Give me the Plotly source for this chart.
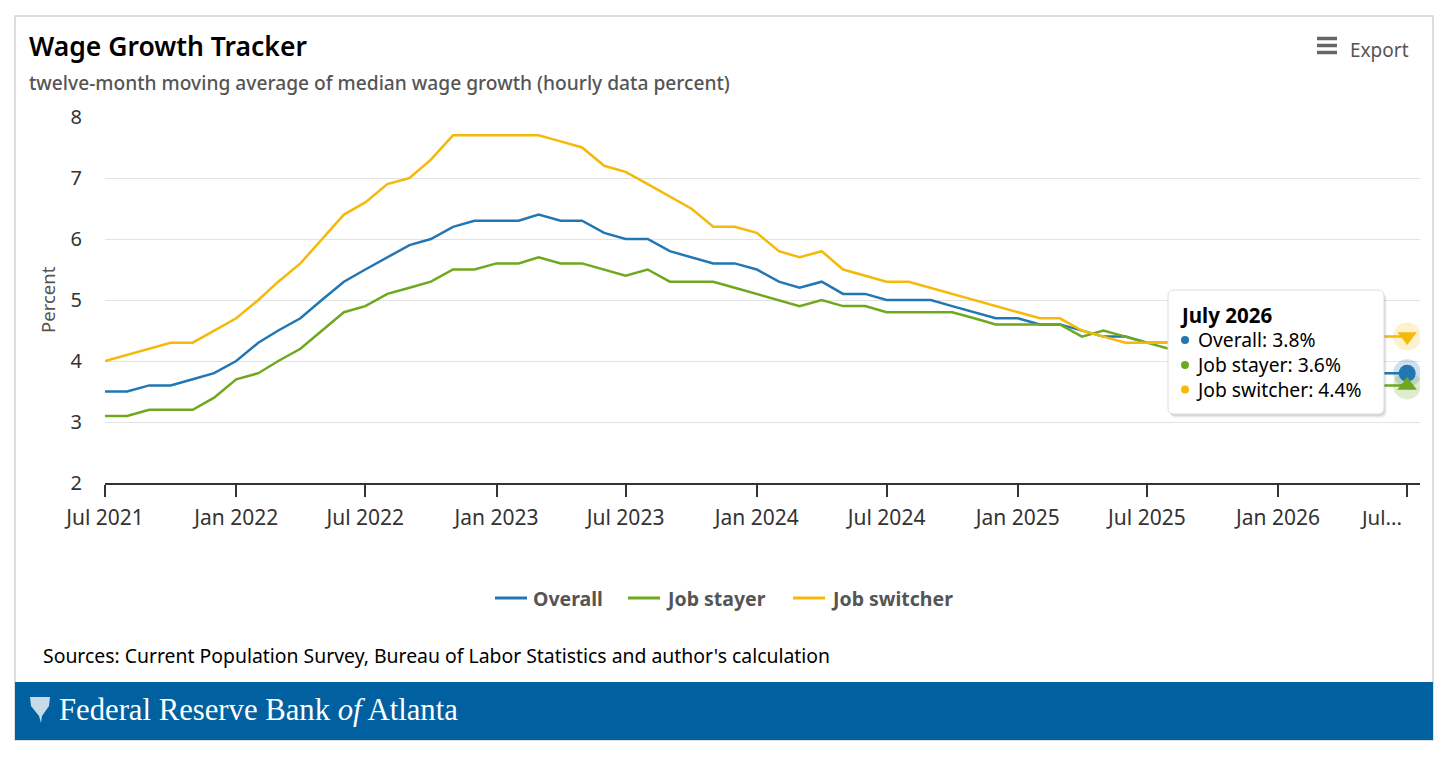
import pandas as pd
import plotly.graph_objects as go

# ---------------- data ----------------
start_month = "2021-07-01"
n_months = 61
months = list(pd.date_range(start_month, periods=n_months, freq="MS"))

overall = [3.5, 3.5, 3.6, 3.6, 3.7, 3.8, 4.0, 4.3, 4.5, 4.7, 5.0, 5.3, 5.5,
           5.7, 5.9, 6.0, 6.2, 6.3, 6.3, 6.3, 6.4, 6.3, 6.3, 6.1, 6.0, 6.0,
           5.8, 5.7, 5.6, 5.6, 5.5, 5.3, 5.2, 5.3, 5.1, 5.1, 5.0, 5.0, 5.0,
           4.9, 4.8, 4.7, 4.7, 4.6, 4.6, 4.5, 4.4, 4.4, 4.3, 4.3, 4.2, 4.2,
           4.1, 4.0, 4.0, 3.9, 3.9, 3.8, 3.8, 3.8, 3.8]
job_stayer = [3.1, 3.1, 3.2, 3.2, 3.2, 3.4, 3.7, 3.8, 4.0, 4.2, 4.5, 4.8, 4.9,
              5.1, 5.2, 5.3, 5.5, 5.5, 5.6, 5.6, 5.7, 5.6, 5.6, 5.5, 5.4, 5.5,
              5.3, 5.3, 5.3, 5.2, 5.1, 5.0, 4.9, 5.0, 4.9, 4.9, 4.8, 4.8, 4.8,
              4.8, 4.7, 4.6, 4.6, 4.6, 4.6, 4.4, 4.5, 4.4, 4.3, 4.2, 4.1, 4.0,
              4.0, 3.9, 3.8, 3.8, 3.7, 3.7, 3.6, 3.6, 3.6]
job_switcher = [4.0, 4.1, 4.2, 4.3, 4.3, 4.5, 4.7, 5.0, 5.3, 5.6, 6.0, 6.4, 6.6,
                6.9, 7.0, 7.3, 7.7, 7.7, 7.7, 7.7, 7.7, 7.6, 7.5, 7.2, 7.1, 6.9,
                6.7, 6.5, 6.2, 6.2, 6.1, 5.8, 5.7, 5.8, 5.5, 5.4, 5.3, 5.3, 5.2,
                5.1, 5.0, 4.9, 4.8, 4.7, 4.7, 4.5, 4.4, 4.3, 4.3, 4.3, 4.3, 4.3,
                4.4, 4.4, 4.4, 4.4, 4.4, 4.4, 4.4, 4.4, 4.4]

series_names = ["Overall", "Job stayer", "Job switcher"]
tick_dates = ["2021-07-01", "2022-01-01", "2022-07-01", "2023-01-01", "2023-07-01",
              "2024-01-01", "2024-07-01", "2025-01-01", "2025-07-01", "2026-01-01",
              "2026-07-01"]
tick_labels = ["Jul 2021", "Jan 2022", "Jul 2022", "Jan 2023", "Jul 2023",
               "Jan 2024", "Jul 2024", "Jan 2025", "Jul 2025", "Jan 2026", "Jul..."]
y_ticks = [2, 3, 4, 5, 6, 7, 8]
tooltip_title = "July 2026"

# ---------------- style ----------------
BLUE = "#2277b3"
GREEN = "#6fa81e"
YELLOW = "#f5b90a"
BANNER = "#0060a0"
FONT = "Noto Sans"

W, H = 1456, 758
L, R, T, B = 105, 1420, 117, 483


def px(X):
    return (X - L) / (R - L)


def py(Y):
    return (B - Y) / (B - T)


def rrect(X0, Y0, X1, Y1, r):
    pts = [
        ("M", [(X0 + r, Y0)]), ("L", [(X1 - r, Y0)]), ("Q", [(X1, Y0), (X1, Y0 + r)]),
        ("L", [(X1, Y1 - r)]), ("Q", [(X1, Y1), (X1 - r, Y1)]), ("L", [(X0 + r, Y1)]),
        ("Q", [(X0, Y1), (X0, Y1 - r)]), ("L", [(X0, Y0 + r)]), ("Q", [(X0, Y0), (X0 + r, Y0)]),
    ]
    s = ""
    for cmd, ps in pts:
        s += cmd + " " + " ".join(f"{px(a):.5f},{py(b):.5f}" for a, b in ps) + " "
    return s + "Z"


fig = go.Figure()
colors = [BLUE, GREEN, YELLOW]
data = [overall, job_stayer, job_switcher]
for name, vals, c in zip(series_names, data, colors):
    fig.add_trace(go.Scatter(x=months, y=vals, mode="lines", name=name,
                             line=dict(color=c, width=2.5), showlegend=False))

# hover-state markers on the last point
last = n_months - 1
halo = {BLUE: "rgba(34,119,179,0.22)", GREEN: "rgba(111,168,30,0.22)",
        YELLOW: "rgba(245,185,10,0.2)"}
symbols = {BLUE: "circle", GREEN: "triangle-up", YELLOW: "triangle-down"}
for vals, c in [(job_switcher, YELLOW), (overall, BLUE), (job_stayer, GREEN)]:
    fig.add_trace(go.Scatter(x=[months[last]], y=[vals[last]], mode="markers",
                             showlegend=False, hoverinfo="skip",
                             marker=dict(size=28, color=halo[c], line=dict(width=0))))
for vals, c in [(job_switcher, YELLOW), (overall, BLUE), (job_stayer, GREEN)]:
    fig.add_trace(go.Scatter(x=[months[last]], y=[vals[last]], mode="markers",
                             showlegend=False, hoverinfo="skip",
                             marker=dict(size=17, color=c, symbol=symbols[c],
                                         line=dict(width=0))))

shapes = []
# outer frame
shapes.append(dict(type="rect", xref="paper", yref="paper", x0=px(15), x1=px(1433),
                   y0=py(16), y1=py(740), line=dict(color="#d4d4d4", width=1.5),
                   fillcolor="rgba(0,0,0,0)", layer="below"))
# banner
shapes.append(dict(type="rect", xref="paper", yref="paper", x0=px(15), x1=px(1433),
                   y0=py(682), y1=py(740), line=dict(width=0), fillcolor=BANNER,
                   layer="below"))
# logo (simple emblem)
logo = (f"M {px(30)},{py(697)} L {px(50)},{py(697)} L {px(49)},{py(706)} "
        f"L {px(42)},{py(716)} L {px(41)},{py(723)} L {px(39)},{py(716)} "
        f"L {px(31)},{py(706)} Z")
shapes.append(dict(type="path", xref="paper", yref="paper", path=logo,
                   fillcolor="rgba(220,232,242,0.9)", line=dict(width=0)))
# hamburger icon
for yy in (38.5, 45.5, 52.5):
    shapes.append(dict(type="line", xref="paper", yref="paper", x0=px(1317), x1=px(1337),
                       y0=py(yy), y1=py(yy), line=dict(color="#666666", width=3.5)))
# legend symbols
legend_x = [(495, 527), (628, 660), (793, 825)]
for (a, b), c in zip(legend_x, colors):
    shapes.append(dict(type="line", xref="paper", yref="paper", x0=px(a), x1=px(b),
                       y0=py(598), y1=py(598), line=dict(color=c, width=3)))
# tooltip box with soft shadow
for off, a in [(4, 0.04), (3, 0.05), (2, 0.07)]:
    shapes.append(dict(type="path", xref="paper", yref="paper",
                       path=rrect(1168 + off - 1, 290 + off, 1384 + off - 1, 414 + off, 6),
                       fillcolor=f"rgba(0,0,0,{a})", line=dict(width=0), layer="above"))
shapes.append(dict(type="path", xref="paper", yref="paper",
                   path=rrect(1168, 290, 1384, 414, 6), fillcolor="white",
                   line=dict(color="#dcdcdc", width=1), layer="above"))
# tooltip dots
for yy, c in [(340, BLUE), (365, GREEN), (389.5, YELLOW)]:
    shapes.append(dict(type="circle", xref="paper", yref="paper",
                       x0=px(1181), x1=px(1189), y0=py(yy - 4), y1=py(yy + 4),
                       fillcolor=c, line=dict(width=0), layer="above"))

ann = []


def text(X, Y, s, size, color="#000", xanchor="left", weight="normal", family=FONT,
         angle=0):
    ann.append(dict(x=px(X), y=py(Y), xref="paper", yref="paper", text=s,
                    showarrow=False, xanchor=xanchor, yanchor="middle",
                    textangle=angle, align="left",
                    font=dict(size=size, color=color, family=family, weight=weight)))


text(27, 46, "Wage Growth Tracker", 26.5, "#000", weight=600)
text(27, 83, "twelve-month moving average of median wage growth (hourly data percent)",
     19.2, "#555", weight=500)
text(1348, 50, "Export", 19, "#555")
text(47, 300, "Percent", 18.5, "#555", xanchor="center", angle=-90)
text(41, 655, "Sources: Current Population Survey, Bureau of Labor Statistics and author's calculation",
     19.4, "#000")
text(57, 710, "Federal Reserve Bank <i>of</i> Atlanta", 30.7, "white",
     family="Liberation Serif")
vals_last = [overall[last], job_stayer[last], job_switcher[last]]
tip_lines = [f"<b>{tooltip_title}</b>"] + [f"    {n}: {v:.1f}%" for n, v in zip(series_names, vals_last)]
tip_text = "<b>" + tooltip_title + "</b><br>" + "<br>".join(
    f"{n}: {v:.1f}%" for n, v in zip(series_names, vals_last))
# title line and value lines as one block (indent handled by two blocks)
text(1178, 315, f"<b>{tooltip_title}</b>", 20.5, "#000")
text(1194, 364.5, "<br>".join(f"{n}: {v:.1f}%" for n, v in zip(series_names, vals_last)),
     19.3, "#000")
# legend labels
for (a, b), n in zip(legend_x, series_names):
    text(b + 4, 598, n, 19.5, "#555", weight="bold")
# last x tick label (shifted left to stay inside the plot, as in the original)
text(1381, 517, tick_labels[-1], 20.5, "#333", xanchor="center")

fig.update_layout(
    width=W, height=H,
    margin=dict(l=L, r=W - R, t=T, b=H - B),
    paper_bgcolor="white", plot_bgcolor="white",
    font=dict(family=FONT, color="#333"),
    shapes=shapes, annotations=ann,
    hovermode=False,
    showlegend=False,
)
fig.update_xaxes(type="date", range=["2021-07-01", "2026-07-19"],
                 tickvals=tick_dates, ticktext=tick_labels[:-1] + [""],
                 showgrid=False, showline=True, linecolor="#333", linewidth=1.5,
                 ticks="outside", ticklen=12, tickwidth=1.5, tickcolor="#333",
                 tickfont=dict(size=21, color="#333"), ticklabelstandoff=3,
                 zeroline=False, fixedrange=True)
fig.update_yaxes(range=[2, 8], tickvals=y_ticks, showgrid=True, gridcolor="#e3e3e3",
                 gridwidth=1, showline=False, zeroline=False, ticks="",
                 tickfont=dict(size=20, color="#333"), ticklabelstandoff=22,
                 fixedrange=True)

fig.write_html("out.html", config={"displayModeBar": False},
               post_script="document.body.style.margin='0';document.body.style.overflow='hidden';")
